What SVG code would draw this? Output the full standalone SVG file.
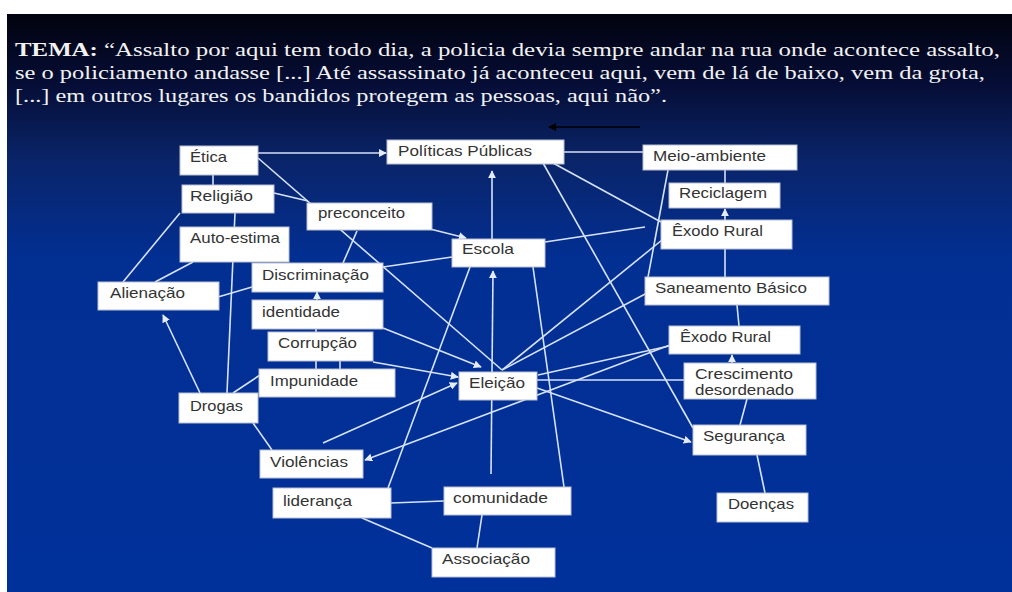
<svg xmlns="http://www.w3.org/2000/svg" width="1012" height="592" viewBox="0 0 1012 592">
<defs>
<linearGradient id="bg" x1="0" y1="14" x2="0" y2="592" gradientUnits="userSpaceOnUse">
<stop offset="0" stop-color="#02030f"/>
<stop offset="0.12" stop-color="#050d35"/>
<stop offset="0.25" stop-color="#0a2468"/>
<stop offset="0.42" stop-color="#022f92"/>
<stop offset="1" stop-color="#00309a"/>
</linearGradient>
<marker id="ah" viewBox="0 0 10 10" refX="9" refY="5" markerWidth="8" markerHeight="8" markerUnits="userSpaceOnUse" orient="auto">
<path d="M0,0 L10,5 L0,10 z" fill="#e4ecfb"/>
</marker>
<marker id="ahk" viewBox="0 0 10 10" refX="9" refY="5" markerWidth="8" markerHeight="8" markerUnits="userSpaceOnUse" orient="auto">
<path d="M0,0 L10,5 L0,10 z" fill="#000"/>
</marker>
</defs>
<style>
.c{stroke:#d6e2f8;stroke-width:1.6;fill:none}
.a{marker-end:url(#ah)}
.n rect{fill:#fff;stroke:#b9bfd0;stroke-width:1}
.n text{font-family:"Liberation Sans",Arial,sans-serif;font-size:14.5px;fill:#333}
.h{font-family:"Liberation Serif","Times New Roman",serif;font-size:18px;fill:#f2f2f2}
</style>
<rect x="0" y="0" width="1012" height="592" fill="#fff"/>
<rect x="7" y="14" width="1005" height="578" fill="url(#bg)"/>
<g id="header">
<text class="h" x="15" y="56" textLength="985" lengthAdjust="spacingAndGlyphs"><tspan font-weight="bold">TEMA:</tspan> “Assalto por aqui tem todo dia, a policia devia sempre andar na rua onde acontece assalto,</text>
<text class="h" x="15" y="79" textLength="970" lengthAdjust="spacingAndGlyphs">se o policiamento andasse [...] Até assassinato já aconteceu aqui, vem de lá de baixo, vem da grota,</text>
<text class="h" x="15" y="102" textLength="652" lengthAdjust="spacingAndGlyphs">[...] em outros lugares os bandidos protegem as pessoas, aqui não”.</text>
</g>
<g id="connectors">
<path class="c" d="M640,127 L549,127" stroke="#000" style="stroke:#000" marker-end="url(#ahk)"/>
<path class="c a" d="M258,153 L386,153"/>
<path class="c" d="M213,175 L213,185"/>
<path class="c" d="M258,158 L502,370"/>
<path class="c" d="M274,193 L308,201"/>
<path class="c" d="M235,213 L227,393"/>
<path class="c" d="M180,213 L123,282"/>
<path class="c" d="M193,262 L155,282"/>
<path class="c" d="M252,287 L218,297"/>
<path class="c" d="M357,231 L343,263"/>
<path class="c a" d="M430,229 L466,238"/>
<path class="c a" d="M492,239 L492,171"/>
<path class="c" d="M452,257 L383,267"/>
<path class="c" d="M545,242 L645,227"/>
<path class="c" d="M470,267 L388,488"/>
<path class="c" d="M533,267 L564,487"/>
<path class="c a" d="M491,474 L493,271"/>
<path class="c" d="M564,152 L643,152"/>
<path class="c" d="M553,163 L661,222"/>
<path class="c" d="M543,163 L693,428"/>
<path class="c" d="M668,170 L648,277"/>
<path class="c" d="M725,170 L725,183"/>
<path class="c a" d="M725,220 L725,209"/>
<path class="c" d="M725,249 L725,277"/>
<path class="c" d="M737,305 L739,326"/>
<path class="c a" d="M732,363 L732,355"/>
<path class="c" d="M747,399 L740,425"/>
<path class="c" d="M757,455 L765,493"/>
<path class="c" d="M502,370 L662,240"/>
<path class="c" d="M502,370 L647,293"/>
<path class="c" d="M538,375 L669,346"/>
<path class="c" d="M537,380 L684,380"/>
<path class="c a" d="M537,388 L691,442"/>
<path class="c a" d="M670,345 L365,460"/>
<path class="c a" d="M323,443 L457,383"/>
<path class="c a" d="M373,362 L458,377"/>
<path class="c a" d="M383,328 L481,367"/>
<path class="c a" d="M317,300 L317,292"/>
<path class="c" d="M316,329 L316,369"/>
<path class="c" d="M340,361 L340,369"/>
<path class="c a" d="M200,393 L163,315"/>
<path class="c" d="M233,393 L260,375"/>
<path class="c" d="M253,423 L272,450"/>
<path class="c" d="M391,503 L444,501"/>
<path class="c" d="M362,518 L432,548"/>
<path class="c" d="M482,515 L477,548"/>
</g>
<g id="n-etica" class="n"><rect x="180" y="146" width="78" height="29"/><text x="190" y="162" textLength="37" lengthAdjust="spacingAndGlyphs">Ética</text></g>
<g id="n-religiao" class="n"><rect x="182" y="185" width="92" height="28"/><text x="190" y="201" textLength="63" lengthAdjust="spacingAndGlyphs">Religião</text></g>
<g id="n-preconceito" class="n"><rect x="307" y="203" width="125" height="27"/><text x="318" y="218" textLength="87" lengthAdjust="spacingAndGlyphs">preconceito</text></g>
<g id="n-autoestima" class="n"><rect x="180" y="227" width="109" height="35"/><text x="190" y="243" textLength="90" lengthAdjust="spacingAndGlyphs">Auto-estima</text></g>
<g id="n-discriminacao" class="n"><rect x="252" y="263" width="131" height="29"/><text x="262" y="280" textLength="107" lengthAdjust="spacingAndGlyphs">Discriminação</text></g>
<g id="n-alienacao" class="n"><rect x="98" y="282" width="121" height="28"/><text x="110" y="298" textLength="75" lengthAdjust="spacingAndGlyphs">Alienação</text></g>
<g id="n-identidade" class="n"><rect x="252" y="300" width="131" height="29"/><text x="262" y="317" textLength="78" lengthAdjust="spacingAndGlyphs">identidade</text></g>
<g id="n-corrupcao" class="n"><rect x="268" y="332" width="105" height="29"/><text x="278" y="348" textLength="79" lengthAdjust="spacingAndGlyphs">Corrupção</text></g>
<g id="n-impunidade" class="n"><rect x="259" y="369" width="136" height="28"/><text x="270" y="386" textLength="88" lengthAdjust="spacingAndGlyphs">Impunidade</text></g>
<g id="n-drogas" class="n"><rect x="179" y="393" width="79" height="30"/><text x="190" y="411" textLength="53" lengthAdjust="spacingAndGlyphs">Drogas</text></g>
<g id="n-violencias" class="n"><rect x="260" y="450" width="103" height="28"/><text x="270" y="467" textLength="78" lengthAdjust="spacingAndGlyphs">Violências</text></g>
<g id="n-lideranca" class="n"><rect x="273" y="488" width="118" height="30"/><text x="283" y="506" textLength="69" lengthAdjust="spacingAndGlyphs">liderança</text></g>
<g id="n-comunidade" class="n"><rect x="444" y="487" width="127" height="28"/><text x="453" y="503" textLength="95" lengthAdjust="spacingAndGlyphs">comunidade</text></g>
<g id="n-associacao" class="n"><rect x="432" y="548" width="123" height="29"/><text x="442" y="564" textLength="88" lengthAdjust="spacingAndGlyphs">Associação</text></g>
<g id="n-politicas" class="n"><rect x="387" y="140" width="177" height="24"/><text x="398" y="156" textLength="134" lengthAdjust="spacingAndGlyphs">Políticas Públicas</text></g>
<g id="n-escola" class="n"><rect x="452" y="239" width="93" height="28"/><text x="462" y="254" textLength="52" lengthAdjust="spacingAndGlyphs">Escola</text></g>
<g id="n-eleicao" class="n"><rect x="459" y="372" width="78" height="28"/><text x="469" y="388" textLength="56" lengthAdjust="spacingAndGlyphs">Eleição</text></g>
<g id="n-meioambiente" class="n"><rect x="643" y="145" width="154" height="25"/><text x="653" y="161" textLength="113" lengthAdjust="spacingAndGlyphs">Meio-ambiente</text></g>
<g id="n-reciclagem" class="n"><rect x="669" y="183" width="111" height="25"/><text x="679" y="198" textLength="88" lengthAdjust="spacingAndGlyphs">Reciclagem</text></g>
<g id="n-exodo1" class="n"><rect x="661" y="220" width="131" height="29"/><text x="672" y="236" textLength="91" lengthAdjust="spacingAndGlyphs">Êxodo Rural</text></g>
<g id="n-saneamento" class="n"><rect x="645" y="277" width="184" height="28"/><text x="655" y="293" textLength="152" lengthAdjust="spacingAndGlyphs">Saneamento Básico</text></g>
<g id="n-exodo2" class="n"><rect x="669" y="326" width="131" height="28"/><text x="680" y="342" textLength="91" lengthAdjust="spacingAndGlyphs">Êxodo Rural</text></g>
<g id="n-crescimento" class="n"><rect x="684" y="363" width="132" height="36"/><text x="695" y="379" textLength="98" lengthAdjust="spacingAndGlyphs">Crescimento</text><text x="695" y="395" textLength="99" lengthAdjust="spacingAndGlyphs">desordenado</text></g>
<g id="n-seguranca" class="n"><rect x="693" y="425" width="113" height="30"/><text x="703" y="441" textLength="82" lengthAdjust="spacingAndGlyphs">Segurança</text></g>
<g id="n-doencas" class="n"><rect x="717" y="493" width="91" height="29"/><text x="728" y="509" textLength="66" lengthAdjust="spacingAndGlyphs">Doenças</text></g>
</svg>
